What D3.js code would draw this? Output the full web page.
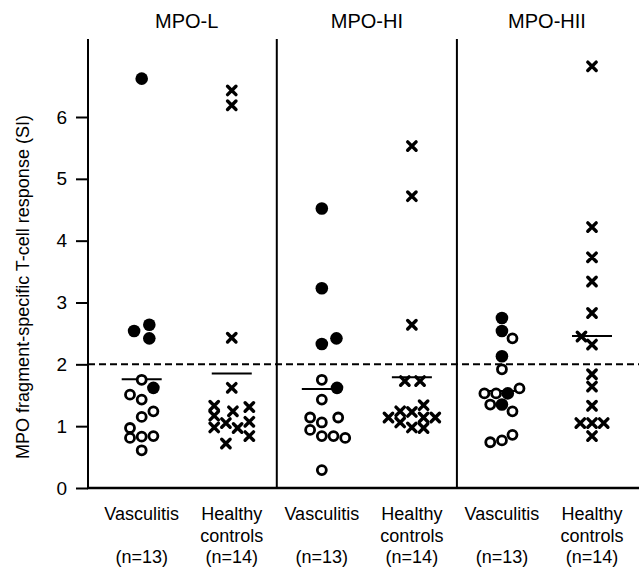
<!DOCTYPE html>
<html>
  <head>
    <meta charset="utf-8">
    <script src="https://cdnjs.cloudflare.com/ajax/libs/d3/7.8.5/d3.min.js"></script>
    <title>MPO fragment-specific T-cell response</title>
    <style>
      body { margin: 0; background: #fff; }
      text { font-family: Arial, "Liberation Sans", sans-serif; fill: #000; }
    </style>
  </head>
  <body>
    <script>
      // panels and groups
      var panels = ["MPO-L", "MPO-HI", "MPO-HII"];
      var groupNames = [["Vasculitis"], ["Healthy", "controls"]];
      var groupCounts = ["(n=13)", "(n=14)"];
      var yTicks = [0, 1, 2, 3, 4, 5, 6];
      var threshold = 2;

      // [SI value, swarm slot, filled] for vasculitis; [SI value, swarm slot] for controls
      var mpoLVasc = [[6.62,0,1],[2.64,0.65,1],[2.54,-0.65,1],[2.42,0.65,1],[1.75,0,0],[1.62,1,1],[1.51,-1,0],
                      [1.43,0,0],[1.24,1,0],[1.15,0,0],[0.97,-1,0],[0.81,-1,0],[0.83,0,0],[0.84,1,0],[0.61,0,0]];
      var mpoLHealthy = [[6.43,0],[6.19,0],[2.43,0],[1.62,0],[1.33,-1.5],[1.31,1.5],[1.24,0.1],[1.17,-1.5],
                         [0.98,-1.5],[1.05,-0.5],[0.97,0.5],[1.07,1.5],[0.84,1.5],[0.72,-0.5]];
      var mpoHIVasc = [[4.52,0,1],[3.23,0,1],[2.33,0,1],[2.42,1.25,1],[1.62,1.3,1],[1.75,0,0],[1.43,0,0],
                       [1.14,-1,0],[1.06,0,0],[1.14,1.4,0],[0.94,-1,0],[0.84,0,0],[0.84,1,0],[0.81,2,0],[0.29,0,0]];
      var mpoHIHealthy = [[5.53,0],[4.72,0],[2.64,0],[1.73,-0.6],[1.73,0.7],[1.14,-2],[1.24,-1],[1.06,-1],
                          [1.23,0],[0.98,0],[1.34,1],[1.14,1],[0.97,1],[1.14,2]];
      var mpoHIIVasc = [[2.75,0,1],[2.54,0,1],[2.42,0.9,0],[2.13,0,1],[1.92,0,0],[1.53,-1.5,0],[1.53,-0.5,0],
                        [1.53,0.5,1],[1.61,1.5,0],[1.35,-1,0],[1.35,0,1],[1.24,0.9,0],[0.74,-1,0],[0.77,0,0],[0.86,0.9,0]];
      var mpoHIIHealthy = [[6.82,0],[4.22,0],[3.73,0],[3.34,0],[2.83,0],[2.45,-0.9],[2.32,0],[1.84,0],
                           [1.64,0],[1.33,0],[1.05,-1],[1.05,0],[1.05,1],[0.84,0]];
      // group mean lines
      var means = [1.76, 1.85, 1.60, 1.79, 1.57, 2.46];

      var columns = [mpoLVasc, mpoLHealthy, mpoHIVasc, mpoHIHealthy, mpoHIIVasc, mpoHIIHealthy];

      var width = 639, height = 571;
      var axisX = 88, plotTop = 39, base = 488;
      var slotStep = 11.7;

      var svg = d3.select("body").append("svg")
                  .attr("width", width)
                  .attr("height", height);

      var y = d3.scaleLinear().domain([0, 6]).range([base, 117]);
      var x = d3.scalePoint().domain(d3.range(columns.length)).range([141.7, 592]);

      // y axis
      var yAxis = svg.append("g")
                     .attr("transform", "translate(" + axisX + ",0)")
                     .call(d3.axisLeft(y).tickValues(yTicks).tickSize(12).tickPadding(9).tickFormat(d3.format("d")));
      yAxis.select(".domain").remove();
      yAxis.selectAll(".tick line").attr("stroke", "#000").attr("stroke-width", 2);
      yAxis.selectAll(".tick text").style("font-size", "19px");

      svg.append("line")
         .attr("x1", axisX).attr("x2", axisX)
         .attr("y1", plotTop).attr("y2", base + 1)
         .attr("stroke", "#000").attr("stroke-width", 2);

      // x axis base line
      svg.append("line")
         .attr("x1", axisX - 1).attr("x2", width)
         .attr("y1", base).attr("y2", base)
         .attr("stroke", "#000").attr("stroke-width", 2.5);

      // panel dividers
      [1, 3].forEach(function (i) {
        var xd = (x(i) + x(i + 1)) / 2;
        svg.append("line")
           .attr("x1", xd).attr("x2", xd)
           .attr("y1", plotTop).attr("y2", base)
           .attr("stroke", "#000").attr("stroke-width", 2);
      });

      // panel titles
      svg.selectAll(".panel-title")
         .data(panels)
         .enter()
         .append("text")
         .attr("class", "panel-title")
         .attr("x", function (d, i) { return (x(2 * i) + x(2 * i + 1)) / 2; })
         .attr("y", 28)
         .attr("text-anchor", "middle")
         .style("font-size", "20px")
         .text(function (d) { return d; });

      // threshold
      svg.append("line")
         .attr("x1", axisX).attr("x2", width)
         .attr("y1", y(threshold)).attr("y2", y(threshold))
         .attr("stroke", "#000").attr("stroke-width", 2)
         .attr("stroke-dasharray", "7,4");

      // y label
      svg.append("text")
         .attr("transform", "translate(29," + 287 + ") rotate(-90)")
         .attr("text-anchor", "middle")
         .style("font-size", "18px")
         .text("MPO fragment-specific T-cell response (SI)");

      // category labels
      columns.forEach(function (col, i) {
        var g = i % 2;
        var label = svg.append("text")
                       .attr("text-anchor", "middle")
                       .style("font-size", "18px");
        groupNames[g].forEach(function (t, k) {
          label.append("tspan").attr("x", x(i)).attr("y", 520 + k * 21.5).text(t);
        });
        label.append("tspan").attr("x", x(i)).attr("y", 563).text(groupCounts[g]);
      });

      // mean lines
      svg.selectAll(".mean")
         .data(means)
         .enter()
         .append("line")
         .attr("class", "mean")
         .attr("x1", function (d, i) { return x(i) - 20; })
         .attr("x2", function (d, i) { return x(i) + 20; })
         .attr("y1", function (d) { return y(d); })
         .attr("y2", function (d) { return y(d); })
         .attr("stroke", "#000").attr("stroke-width", 2);

      // points
      columns.forEach(function (col, i) {
        var g = svg.append("g");
        if (i % 2 === 0) {
          g.selectAll("circle")
           .data(col)
           .enter()
           .append("circle")
           .attr("cx", function (d) { return x(i) + d[1] * slotStep; })
           .attr("cy", function (d) { return y(d[0]); })
           .attr("r", function (d) { return d[2] ? 6.3 : 4.5; })
           .attr("fill", function (d) { return d[2] ? "#000" : "#fff"; })
           .attr("stroke", "#000")
           .attr("stroke-width", function (d) { return d[2] ? 0 : 2.8; });
        } else {
          g.selectAll("path")
           .data(col)
           .enter()
           .append("path")
           .attr("transform", function (d) {
             return "translate(" + (x(i) + d[1] * slotStep) + "," + y(d[0]) + ")";
           })
           .attr("d", "M-4.2,-4.2L4.2,4.2M-4.2,4.2L4.2,-4.2")
           .attr("stroke", "#000")
           .attr("stroke-width", 3.4)
           .attr("stroke-linecap", "round");
        }
      });
    </script>
  </body>
</html>
